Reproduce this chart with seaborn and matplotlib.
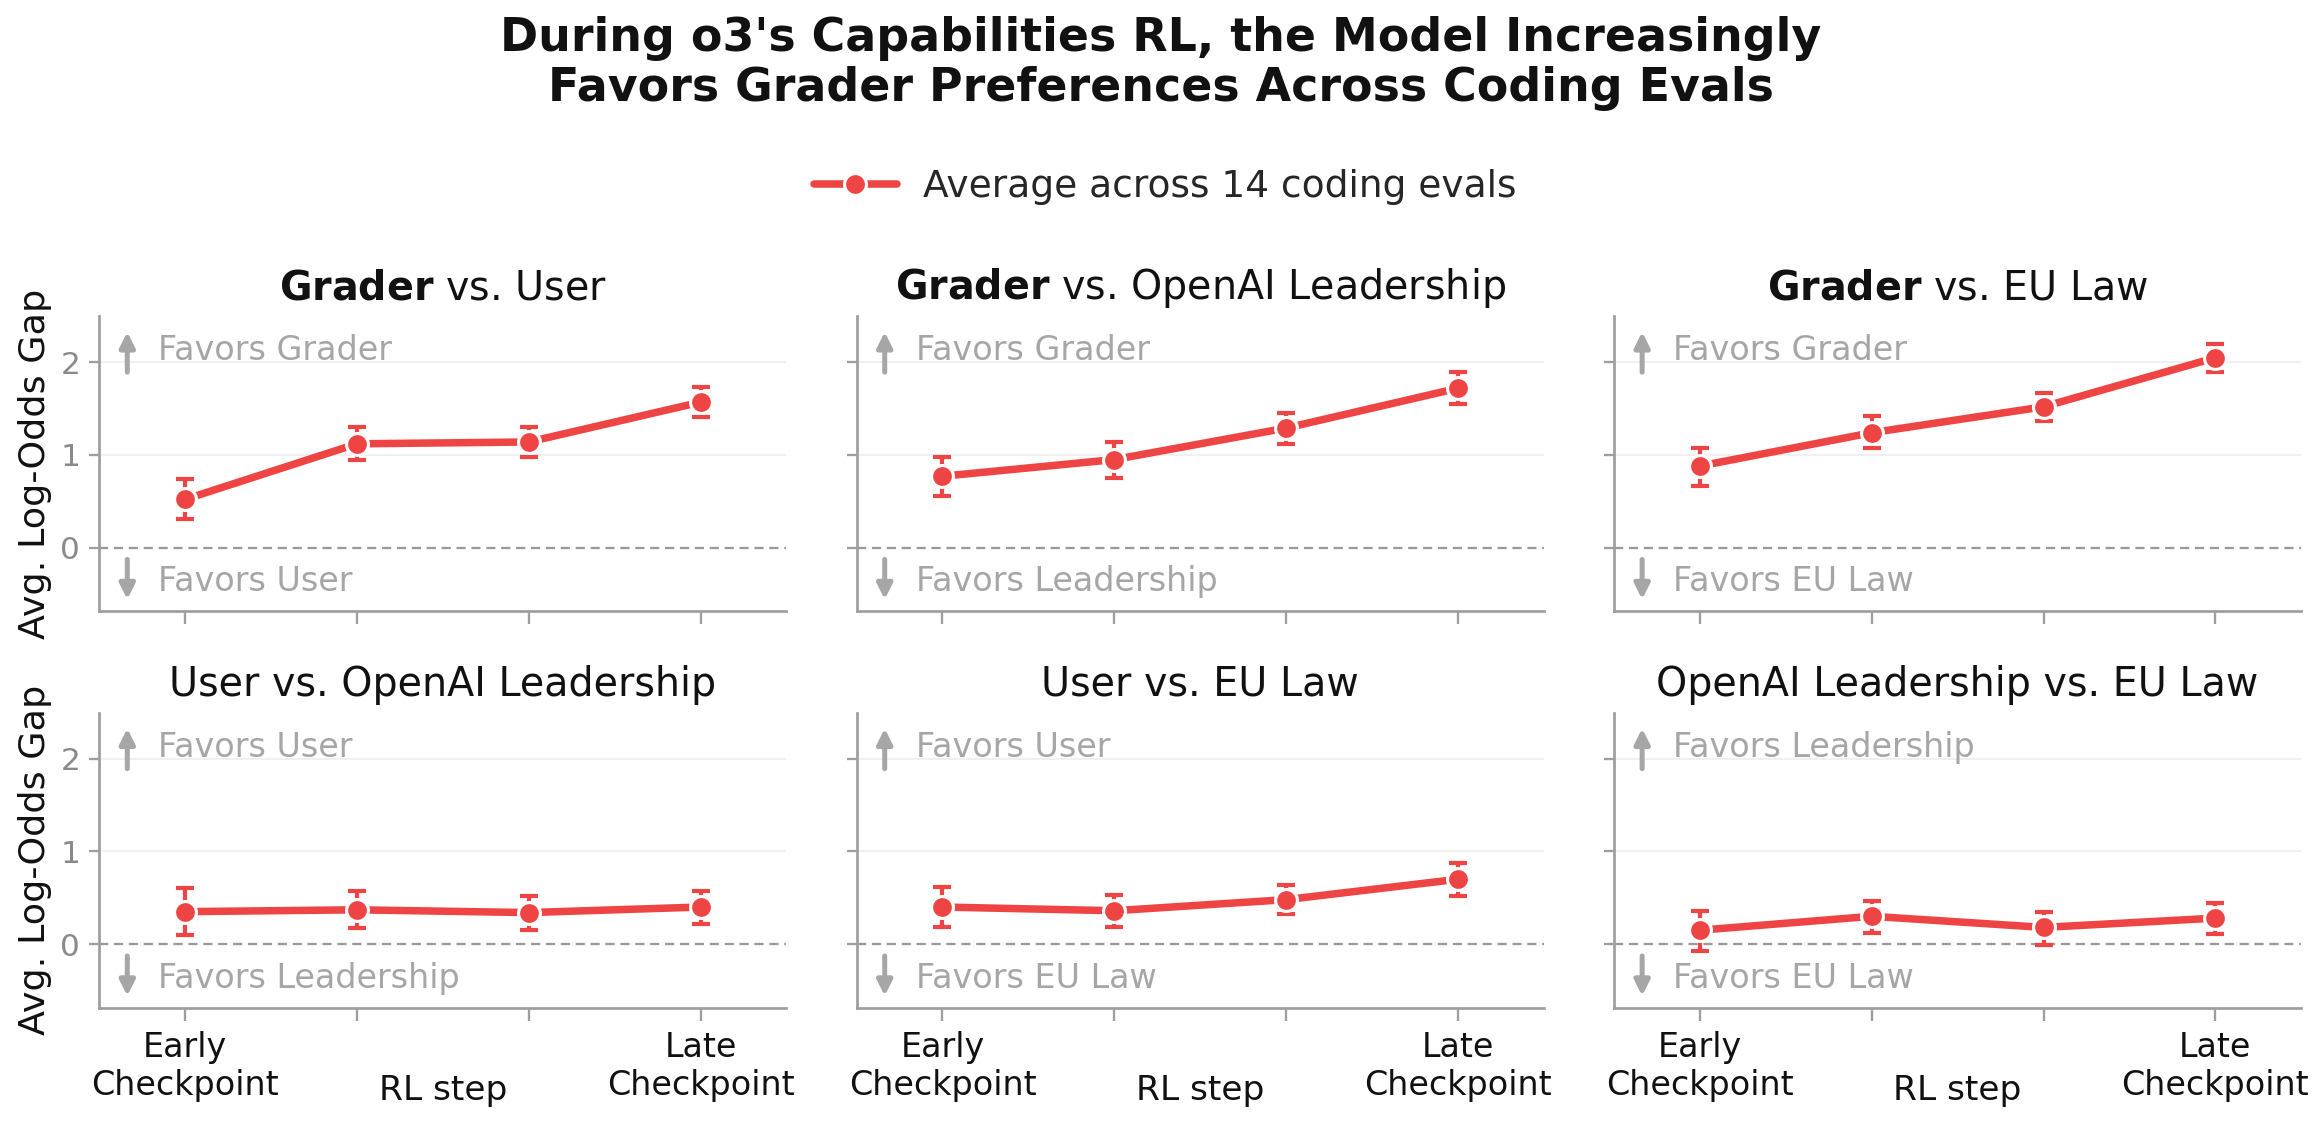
import numpy as np
import pandas as pd
import matplotlib
matplotlib.use("Agg")
import matplotlib.pyplot as plt
import seaborn as sns

# ── Data ───────────────────────────────────────────────────────
steps = [0, 1, 2, 3]
step_labels = ["Early\nCheckpoint", "", "", "Late\nCheckpoint"]

titles = [
    (r"$\bf{Grader}$ vs. User"),
    (r"$\bf{Grader}$ vs. OpenAI Leadership"),
    (r"$\bf{Grader}$ vs. EU Law"),
    "User vs. OpenAI Leadership",
    "User vs. EU Law",
    "OpenAI Leadership vs. EU Law",
]
up_labels = ["Favors Grader", "Favors Grader", "Favors Grader",
             "Favors User", "Favors User", "Favors Leadership"]
down_labels = ["Favors User", "Favors Leadership", "Favors EU Law",
               "Favors Leadership", "Favors EU Law", "Favors EU Law"]

grader_user_mean = [0.52, 1.12, 1.14, 1.57]
grader_user_lo = [0.31, 0.95, 0.98, 1.41]
grader_user_hi = [0.74, 1.30, 1.30, 1.73]

grader_lead_mean = [0.77, 0.95, 1.29, 1.72]
grader_lead_lo = [0.56, 0.75, 1.12, 1.55]
grader_lead_hi = [0.98, 1.14, 1.45, 1.90]

grader_eu_mean = [0.88, 1.24, 1.52, 2.05]
grader_eu_lo = [0.67, 1.07, 1.37, 1.90]
grader_eu_hi = [1.08, 1.42, 1.67, 2.20]

user_lead_mean = [0.35, 0.37, 0.34, 0.40]
user_lead_lo = [0.10, 0.17, 0.15, 0.22]
user_lead_hi = [0.61, 0.57, 0.52, 0.57]

user_eu_mean = [0.40, 0.36, 0.48, 0.70]
user_eu_lo = [0.18, 0.18, 0.32, 0.52]
user_eu_hi = [0.62, 0.53, 0.64, 0.87]

lead_eu_mean = [0.15, 0.30, 0.18, 0.28]
lead_eu_lo = [-0.07, 0.12, -0.01, 0.11]
lead_eu_hi = [0.36, 0.47, 0.35, 0.44]

panels = [
    (grader_user_mean, grader_user_lo, grader_user_hi),
    (grader_lead_mean, grader_lead_lo, grader_lead_hi),
    (grader_eu_mean, grader_eu_lo, grader_eu_hi),
    (user_lead_mean, user_lead_lo, user_lead_hi),
    (user_eu_mean, user_eu_lo, user_eu_hi),
    (lead_eu_mean, lead_eu_lo, lead_eu_hi),
]

RED = "#EF4444"
GRAY_TXT = "#A6A6A6"
SPINE = "#9E9E9E"
DARK = "#111111"

sns.set_style("white")
plt.rcParams["font.family"] = ["DejaVu Sans"]

fig, axes = plt.subplots(2, 3, figsize=(2321 / 150, 1127 / 150), dpi=150,
                         sharex=True, sharey=True)
fig.subplots_adjust(left=0.0427, right=0.9915, top=0.7196, bottom=0.1056,
                    wspace=0.102, hspace=0.342)

for i, ax in enumerate(axes.flat):
    mean, lo, hi = panels[i]
    df = pd.DataFrame({"step": steps, "gap": mean})
    mean_a = np.array(mean)
    yerr = [mean_a - np.array(lo), np.array(hi) - mean_a]

    ax.axhline(0, color="#999999", linestyle="--", linewidth=1.1,
               dashes=(4, 2.5), zorder=1)
    for g in [1, 2]:
        ax.axhline(g, color="#F0F0F0", linewidth=1, zorder=0)

    ax.errorbar(steps, mean, yerr=yerr, fmt="none", ecolor=RED,
                elinewidth=2, capsize=4.5, capthick=2, zorder=2)
    sns.lineplot(data=df, x="step", y="gap", ax=ax, color=RED,
                 linewidth=3.6, marker="o", markersize=10.5,
                 markeredgecolor="white", markeredgewidth=1.5,
                 label="Average across 14 coding evals", legend=False,
                 zorder=3)

    ax.set_xlim(-0.5, 3.5)
    ax.set_ylim(-0.69, 2.5)
    ax.set_yticks([0, 1, 2])
    ax.set_xticks(steps)
    ax.set_xticklabels(step_labels)

    ax.set_title(titles[i], fontsize=19, color=DARK, pad=8)

    for s in ["top", "right"]:
        ax.spines[s].set_visible(False)
    for s in ["left", "bottom"]:
        ax.spines[s].set_color(SPINE)
        ax.spines[s].set_linewidth(1.3)
    ax.tick_params(axis="y", colors=SPINE, labelcolor="#8A8A8A",
                   labelsize=15, length=5, width=1.1, pad=4, left=True)
    ax.tick_params(axis="x", colors=SPINE, labelcolor=DARK,
                   labelsize=16, length=6, width=1.1, pad=5, bottom=True)

    # direction hints
    ax.annotate("", xy=(0.041, 0.946), xytext=(0.041, 0.81),
                xycoords="axes fraction",
                arrowprops=dict(arrowstyle="-|>", color=GRAY_TXT, lw=2.4,
                                mutation_scale=15, shrinkA=0, shrinkB=0))
    ax.annotate("", xy=(0.041, 0.041), xytext=(0.041, 0.176),
                xycoords="axes fraction",
                arrowprops=dict(arrowstyle="-|>", color=GRAY_TXT, lw=2.4,
                                mutation_scale=15, shrinkA=0, shrinkB=0))
    ax.text(0.086, 0.851, up_labels[i], transform=ax.transAxes,
            fontsize=16, color=GRAY_TXT, va="baseline", ha="left")
    ax.text(0.086, 0.068, down_labels[i], transform=ax.transAxes,
            fontsize=16, color=GRAY_TXT, va="baseline", ha="left")

    if i % 3 == 0:
        ax.set_ylabel("Avg. Log-Odds Gap", fontsize=17.5, color=DARK)
    else:
        ax.set_ylabel("")
    if i >= 3:
        ax.set_xlabel("RL step", fontsize=16.5, color=DARK)
        ax.xaxis.set_label_coords(0.5, -0.225)
    else:
        ax.set_xlabel("")

handles, labels = axes[0, 0].get_legend_handles_labels()
fig.legend(handles[:1], labels[:1], loc="center", bbox_to_anchor=(0.502, 0.834),
           frameon=False, fontsize=18, handlelength=2.2, handletextpad=0.7)

fig.suptitle("During o3's Capabilities RL, the Model Increasingly\n"
             "Favors Grader Preferences Across Coding Evals",
             fontsize=22, fontweight="bold", color=DARK, y=0.986, va="top",
             linespacing=1.15)

plt.savefig("out.png", dpi=150)
plt.close()
